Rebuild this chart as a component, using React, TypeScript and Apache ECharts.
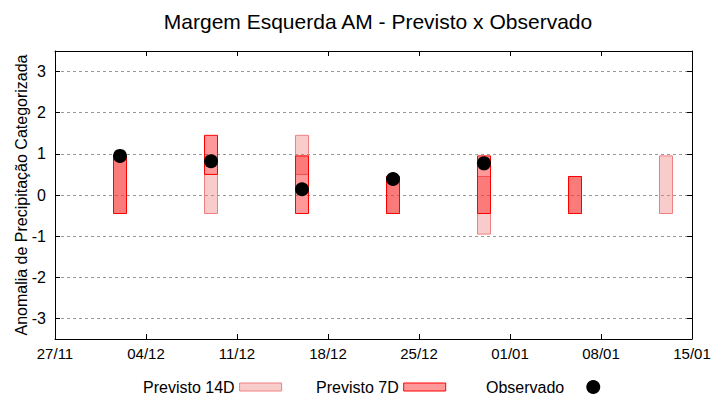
import React, { useEffect, useRef } from "react";
import * as echarts from "echarts";

const DAY = 86400000;
const dates = ["2025-12-02", "2025-12-09", "2025-12-16", "2025-12-23", "2025-12-30", "2026-01-06", "2026-01-13"];
const prev14Low: (number | null)[] = [-0.45, -0.45, 0.5, -0.45, -0.95, -0.45, -0.45];
const prev14High: (number | null)[] = [0.95, 0.5, 1.45, 0.45, 0.45, 0.45, 0.95];
const prev7Low: (number | null)[] = [-0.45, 0.5, -0.45, -0.45, -0.45, -0.45, null];
const prev7High: (number | null)[] = [0.95, 1.45, 0.95, 0.45, 0.95, 0.45, null];
const observed: (number | null)[] = [0.95, 0.82, 0.14, 0.39, 0.77, null, null];

const xStart = "2025-11-27";
const xEnd = "2026-01-15";
const yMin = -3.5;
const yMax = 3.5;

const FONT = "Liberation Sans";

const ts = (d: string) => new Date(d + "T00:00:00Z").getTime();
const pad = (n: number) => (n < 10 ? "0" + n : "" + n);
const fmt = (v: number) => {
  const d = new Date(v);
  return pad(d.getUTCDate()) + "/" + pad(d.getUTCMonth() + 1);
};

const rangeData = (lo: (number | null)[], hi: (number | null)[]) =>
  dates
    .map((d, i) => (lo[i] == null || hi[i] == null ? null : [ts(d), lo[i], hi[i]]))
    .filter((r) => r !== null) as number[][];

const makeRender = (fill: string, stroke: string) => (params: any, api: any) => {
  const x = api.value(0);
  const lo = api.value(1);
  const hi = api.value(2);
  const p1 = api.coord([x - DAY / 2, hi]);
  const p2 = api.coord([x + DAY / 2, lo]);
  return {
    type: "rect",
    shape: { x: p1[0], y: p1[1], width: p2[0] - p1[0], height: p2[1] - p1[1] },
    style: { fill, stroke, lineWidth: 1 },
  };
};

const C14_FILL = "rgba(240,128,128,0.4)";
const C14_STROKE = "#f08080";
const C7_FILL = "rgba(255,0,0,0.4)";
const C7_STROKE = "#ff0000";

export default function App() {
  const ref = useRef<HTMLDivElement>(null);
  useEffect(() => {
    if (!ref.current) return;
    const chart = echarts.init(ref.current, undefined, { renderer: "svg" });
    const xMin = ts(xStart);
    const xMax = ts(xEnd);
    const tickAxisCommon = {
      type: "value" as const,
      min: xMin,
      max: xMax,
      interval: 7 * DAY,
      axisLine: { show: true, onZero: false, lineStyle: { color: "#000", width: 1 } },
      axisTick: { show: true, inside: true, length: 5, lineStyle: { color: "#000" } },
      splitLine: { show: false },
      z: 3,
    };
    const legendCommon = {
      top: 379,
      padding: 0,
      align: "right",
      textStyle: { fontFamily: FONT, fontSize: 16, color: "#000" },
    };
    chart.setOption({
      animation: false,
      backgroundColor: "#fff",
      textStyle: { fontFamily: FONT },
      title: {
        text: "Margem Esquerda AM - Previsto x Observado",
        left: 373,
        textAlign: "center",
        top: 6,
        textStyle: { fontFamily: FONT, fontSize: 21, fontWeight: "normal", color: "#000" },
      },
      grid: { left: 55, right: 28, top: 51, bottom: 61, show: false },
      xAxis: [
        {
          ...tickAxisCommon,
          position: "bottom",
          axisLabel: { formatter: fmt, fontFamily: FONT, fontSize: 15, color: "#000", margin: 7 },
        },
        {
          ...tickAxisCommon,
          position: "top",
          axisLabel: { show: false },
        },
      ],
      yAxis: [
        {
          type: "value",
          min: yMin,
          max: yMax,
          splitNumber: 7,
          position: "left",
          name: "Anomalia de Precipitação Categorizada",
          nameLocation: "middle",
          nameGap: 26,
          nameMoveOverlap: false,
          nameTextStyle: { fontFamily: FONT, fontSize: 16, color: "#000" },
          axisLine: { show: true, onZero: false, lineStyle: { color: "#000", width: 1 } },
          axisTick: { show: true, inside: true, length: 5, lineStyle: { color: "#000" } },
          axisLabel: { fontFamily: FONT, fontSize: 16, color: "#000", margin: 9, showMinLabel: false, showMaxLabel: false },
          splitLine: { show: true, lineStyle: { color: "#999999", type: [3, 3], width: 1 } },
        },
        {
          type: "value",
          min: yMin,
          max: yMax,
          splitNumber: 7,
          position: "right",
          axisLine: { show: true, onZero: false, lineStyle: { color: "#000", width: 1 } },
          axisTick: { show: true, inside: true, length: 5, lineStyle: { color: "#000" } },
          axisLabel: { show: false },
          splitLine: { show: false },
          z: 3,
        },
      ],
      legend: [
        {
          ...legendCommon,
          left: 143,
          itemWidth: 42,
          itemHeight: 8,
          data: [{ name: "Previsto 14D", icon: "rect", itemStyle: { color: C14_FILL, borderColor: C14_STROKE, borderWidth: 1 } }],
        },
        {
          ...legendCommon,
          left: 316,
          itemWidth: 42,
          itemHeight: 8,
          data: [{ name: "Previsto 7D", icon: "rect", itemStyle: { color: C7_FILL, borderColor: C7_STROKE, borderWidth: 1 } }],
        },
        {
          ...legendCommon,
          left: 486,
          itemWidth: 14,
          itemHeight: 14,
          textStyle: { fontFamily: FONT, fontSize: 16, color: "#000", padding: [0, 17, 0, 0] },
          data: [{ name: "Observado", icon: "circle", itemStyle: { color: "#000", opacity: 1 } }],
        },
      ],
      series: [
        {
          name: "Previsto 14D",
          type: "custom",
          renderItem: makeRender(C14_FILL, C14_STROKE),
          encode: { x: 0, y: [1, 2] },
          data: rangeData(prev14Low, prev14High),
          itemStyle: { color: C14_FILL },
          z: 2,
        },
        {
          name: "Previsto 7D",
          type: "custom",
          renderItem: makeRender(C7_FILL, C7_STROKE),
          encode: { x: 0, y: [1, 2] },
          data: rangeData(prev7Low, prev7High),
          itemStyle: { color: C7_FILL },
          z: 3,
        },
        {
          name: "Observado",
          type: "scatter",
          symbol: "circle",
          symbolSize: 14,
          itemStyle: { color: "#000", opacity: 1 },
          data: dates
            .map((d, i) => (observed[i] == null ? null : [ts(d), observed[i]]))
            .filter((r) => r !== null),
          z: 4,
        },
      ],
    });
    return () => chart.dispose();
  }, []);
  return <div ref={ref} style={{ width: 720, height: 400, position: "absolute", left: 0, top: 0 }} />;
}
